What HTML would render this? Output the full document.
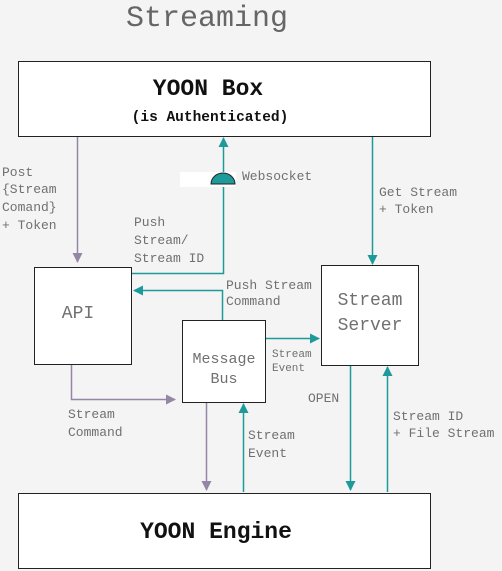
<!DOCTYPE html>
<html><head><meta charset="utf-8"><style>
html,body{margin:0;padding:0;background:#f4f4f4;}
svg{display:block;}
text{font-family:"Liberation Mono",monospace;fill:#707070;}
</style></head><body>
<svg width="502" height="571" viewBox="0 0 502 571" xmlns="http://www.w3.org/2000/svg">
<defs>
<marker id="t" markerWidth="10" markerHeight="10" refX="9" refY="5" orient="auto" markerUnits="userSpaceOnUse"><path d="M0,0 L10,5 L0,10 z" fill="#1f9a9a"/></marker>
<marker id="p" markerWidth="10" markerHeight="10" refX="9" refY="5" orient="auto" markerUnits="userSpaceOnUse"><path d="M0,0 L10,5 L0,10 z" fill="#9386a6"/></marker>
</defs>
<text x="207" y="26" font-size="30" text-anchor="middle" style="fill:#666">Streaming</text>

<rect x="18.5" y="61.5" width="412" height="75" fill="#fff" stroke="#222"/>
<text x="208" y="95" font-size="23" font-weight="bold" text-anchor="middle" style="fill:#111">YOON Box</text>
<text x="210" y="121" font-size="14.5" font-weight="bold" text-anchor="middle" style="fill:#111">(is Authenticated)</text>

<rect x="18.5" y="493.5" width="412" height="75" fill="#fff" stroke="#222"/>
<text x="216" y="538" font-size="23" font-weight="bold" text-anchor="middle" style="fill:#111">YOON Engine</text>

<rect x="34.5" y="267.5" width="97" height="97" fill="#fff" stroke="#222"/>
<text x="78" y="318" font-size="18" text-anchor="middle">API</text>

<rect x="321.5" y="265.5" width="97" height="100" fill="#fff" stroke="#222"/>
<text x="370" y="305" font-size="18" text-anchor="middle">Stream</text>
<text x="370" y="330" font-size="18" text-anchor="middle">Server</text>

<rect x="182.5" y="320.5" width="83" height="82" fill="#fff" stroke="#222"/>
<text x="224" y="363" font-size="15" text-anchor="middle">Message</text>
<text x="224" y="383" font-size="15" text-anchor="middle">Bus</text>

<g fill="none" stroke-width="1.5">
<path d="M77.5,137 V262" stroke="#9386a6" marker-end="url(#p)"/>
<path d="M132,273.5 H223.5 V138" stroke="#1f9a9a" marker-end="url(#t)"/>
<path d="M222.5,320 V290.5 H134" stroke="#1f9a9a" marker-end="url(#t)"/>
<path d="M372.5,137 V264" stroke="#1f9a9a" marker-end="url(#t)"/>
<path d="M266,338.5 H319" stroke="#1f9a9a" marker-end="url(#t)"/>
<path d="M71.5,365 V399.5 H175" stroke="#9386a6" marker-end="url(#p)"/>
<path d="M206.5,403 V490" stroke="#9386a6" marker-end="url(#p)"/>
<path d="M243.5,492 V404" stroke="#1f9a9a" marker-end="url(#t)"/>
<path d="M350.5,366 V490" stroke="#1f9a9a" marker-end="url(#t)"/>
<path d="M387.5,492 V367" stroke="#1f9a9a" marker-end="url(#t)"/>
</g>
<rect x="180" y="172" width="56" height="15" fill="#fff"/>
<path d="M211,184 A12,11 0 0 1 235,184 Z" fill="#1f9a9a" stroke="#222"/>
<text x="242" y="180" font-size="13">Websocket</text>

<g font-size="13">
<text x="2" y="176">Post</text>
<text x="2" y="193">{Stream</text>
<text x="2" y="211">Comand}</text>
<text x="2" y="229">+ Token</text>
<text x="134" y="226">Push</text>
<text x="134" y="244">Stream/</text>
<text x="134" y="262">Stream ID</text>
<text x="226" y="289">Push Stream</text>
<text x="226" y="305">Command</text>
<text x="379" y="196">Get Stream</text>
<text x="379" y="213">+ Token</text>
<text x="68" y="418">Stream</text>
<text x="68" y="436">Command</text>
<text x="248" y="439">Stream</text>
<text x="248" y="457">Event</text>
<text x="308" y="402">OPEN</text>
<text x="393" y="420">Stream ID</text>
<text x="393" y="437">+ File Stream</text>
</g>
<text x="272" y="357" font-size="11">Stream</text>
<text x="272" y="371" font-size="11">Event</text>
</svg>
</body></html>
